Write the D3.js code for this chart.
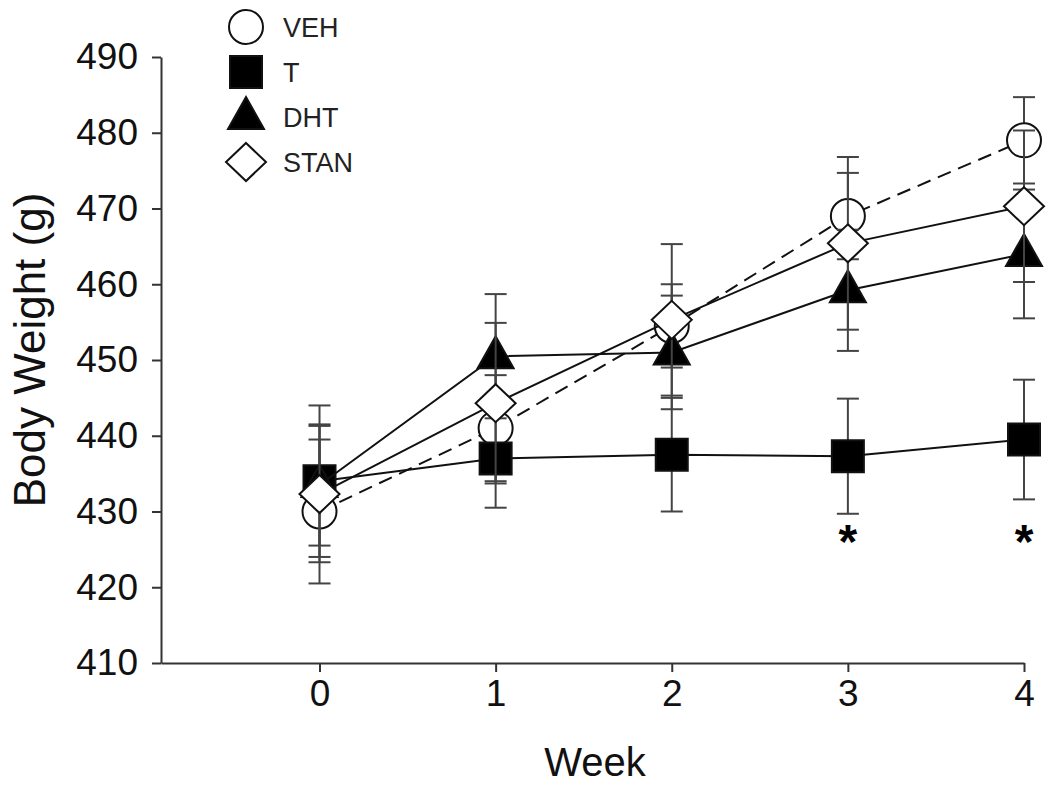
<!DOCTYPE html>
<html>
<head>
<meta charset="utf-8">
<script src="https://cdn.jsdelivr.net/npm/d3@7"></script>
<style>
  body { margin: 0; background: #fff; }
  #chart { width: 1050px; height: 788px; }
  text { font-family: "Liberation Sans", Arial, sans-serif; }
</style>
</head>
<body>
<div id="chart"></div>
<script>
// data
const weeks = [0, 1, 2, 3, 4];
const groups = ["VEH", "T", "DHT", "STAN"];
const vehMean  = [430.0, 441.0, 454.5, 469.0, 479.0];
const vehSE    = [9.5, 7.0, 5.5, 5.7, 5.7];
const tMean    = [434.0, 437.0, 437.5, 437.3, 439.5];
const tSE      = [10.0, 6.5, 7.5, 7.6, 7.9];
const dhtMean  = [433.5, 450.5, 451.0, 459.2, 464.0];
const dhtSE    = [8.0, 8.2, 7.5, 8.0, 8.5];
const stanMean = [432.3, 444.3, 455.3, 465.4, 470.3];
const stanSE   = [9.0, 10.6, 10.0, 11.4, 10.0];
const yTicks = [410, 420, 430, 440, 450, 460, 470, 480, 490];
const sigWeeks = [3, 4];   // asterisks under T

const series = [
    {name: groups[0], mean: vehMean,  se: vehSE,  shape: "circle",   dashed: true},
    {name: groups[1], mean: tMean,    se: tSE,    shape: "square",   dashed: false},
    {name: groups[2], mean: dhtMean,  se: dhtSE,  shape: "triangle", dashed: false},
    {name: groups[3], mean: stanMean, se: stanSE, shape: "diamond",  dashed: false}
];

const width = 1050, height = 788;
const margin = {top: 57, left: 161, right: 26, bottom: 125};

const svg = d3.select("#chart")
    .append("svg")
    .attr("width", width)
    .attr("height", height);

const xScale = d3.scaleLinear()
    .domain([-0.9, 4])
    .range([margin.left, width - margin.right]);

const yScale = d3.scaleLinear()
    .domain([410, 490])
    .range([height - margin.bottom, margin.top]);

/* axes */
const xAxis = svg.append("g")
    .attr("transform", `translate(0,${height - margin.bottom})`)
    .call(d3.axisBottom(xScale).tickValues(weeks).tickFormat(d3.format("d"))
        .tickSize(9).tickPadding(8).tickSizeOuter(0));

const yAxis = svg.append("g")
    .attr("transform", `translate(${margin.left},0)`)
    .call(d3.axisLeft(yScale).tickValues(yTicks).tickSize(9).tickPadding(14).tickSizeOuter(0));

svg.selectAll(".domain, .tick line")
    .attr("stroke", "#333")
    .attr("stroke-width", 2);
svg.selectAll(".tick text")
    .attr("font-size", 37)
    .attr("fill", "#111")
    .attr("font-family", "Liberation Sans, Arial, sans-serif");

svg.append("text")
    .attr("x", 595)
    .attr("y", 776)
    .attr("text-anchor", "middle")
    .attr("font-size", 40)
    .attr("fill", "#111")
    .text("Week");

svg.append("text")
    .attr("transform", `translate(45,350) rotate(-90)`)
    .attr("text-anchor", "middle")
    .attr("font-size", 44)
    .attr("fill", "#111")
    .text("Body Weight (g)");

/* marker shapes */
function markerPath(shape) {
    if (shape === "circle") {
        const p = d3.path(); p.arc(0, 0, 17, 0, 2 * Math.PI); p.closePath(); return p.toString();
    }
    if (shape === "square") return "M-16,-16H16V16H-16Z";
    if (shape === "triangle") return "M0,-20L18,12H-18Z";
    return "M0,-19L20,0L0,19L-20,0Z";
}
function markerFill(shape) {
    return (shape === "square" || shape === "triangle") ? "#000" : "#fff";
}

const line = d3.line()
    .x(function(d) { return xScale(d.week); })
    .y(function(d) { return yScale(d.mean); });

series.forEach(function(s) {
    const pts = weeks.map(function(w, i) { return {week: w, mean: s.mean[i], se: s.se[i]}; });
    const g = svg.append("g").attr("class", "series");

    g.append("path")
        .datum(pts)
        .attr("d", line)
        .attr("fill", "none")
        .attr("stroke", "#111")
        .attr("stroke-width", 2)
        .attr("stroke-dasharray", s.dashed ? "14,8" : null);

    const bars = g.selectAll(".err")
        .data(pts)
        .enter()
        .append("g")
        .attr("class", "err")
        .attr("stroke", "#444")
        .attr("stroke-width", 2);
    bars.append("line")
        .attr("x1", function(d) { return xScale(d.week); })
        .attr("x2", function(d) { return xScale(d.week); })
        .attr("y1", function(d) { return yScale(d.mean - d.se); })
        .attr("y2", function(d) { return yScale(d.mean + d.se); });
    bars.append("line")
        .attr("x1", function(d) { return xScale(d.week) - 11; })
        .attr("x2", function(d) { return xScale(d.week) + 11; })
        .attr("y1", function(d) { return yScale(d.mean + d.se); })
        .attr("y2", function(d) { return yScale(d.mean + d.se); });
    bars.append("line")
        .attr("x1", function(d) { return xScale(d.week) - 11; })
        .attr("x2", function(d) { return xScale(d.week) + 11; })
        .attr("y1", function(d) { return yScale(d.mean - d.se); })
        .attr("y2", function(d) { return yScale(d.mean - d.se); });

    g.selectAll(".marker")
        .data(pts)
        .enter()
        .append("path")
        .attr("class", "marker")
        .attr("transform", function(d) { return `translate(${xScale(d.week)},${yScale(d.mean)})`; })
        .attr("d", markerPath(s.shape))
        .attr("fill", markerFill(s.shape))
        .attr("stroke", "#111")
        .attr("stroke-width", 2);
});

/* significance asterisks */
svg.selectAll(".star")
    .data(sigWeeks)
    .enter()
    .append("text")
    .attr("class", "star")
    .attr("x", function(d) { return xScale(d); })
    .attr("y", 558)
    .attr("text-anchor", "middle")
    .attr("font-size", 48)
    .attr("font-weight", "bold")
    .text("*");

/* legend */
const legend = svg.selectAll(".legend")
    .data(series)
    .enter()
    .append("g")
    .attr("class", "legend")
    .attr("transform", function(d, i) { return `translate(246,${27 + i * 45})`; });
legend.append("path")
    .attr("d", function(d) { return markerPath(d.shape); })
    .attr("fill", function(d) { return markerFill(d.shape); })
    .attr("stroke", "#111")
    .attr("stroke-width", 2);
legend.append("text")
    .attr("x", 37)
    .attr("y", 10)
    .attr("font-size", 27)
    .attr("fill", "#222")
    .text(function(d) { return d.name; });
</script>
</body>
</html>
